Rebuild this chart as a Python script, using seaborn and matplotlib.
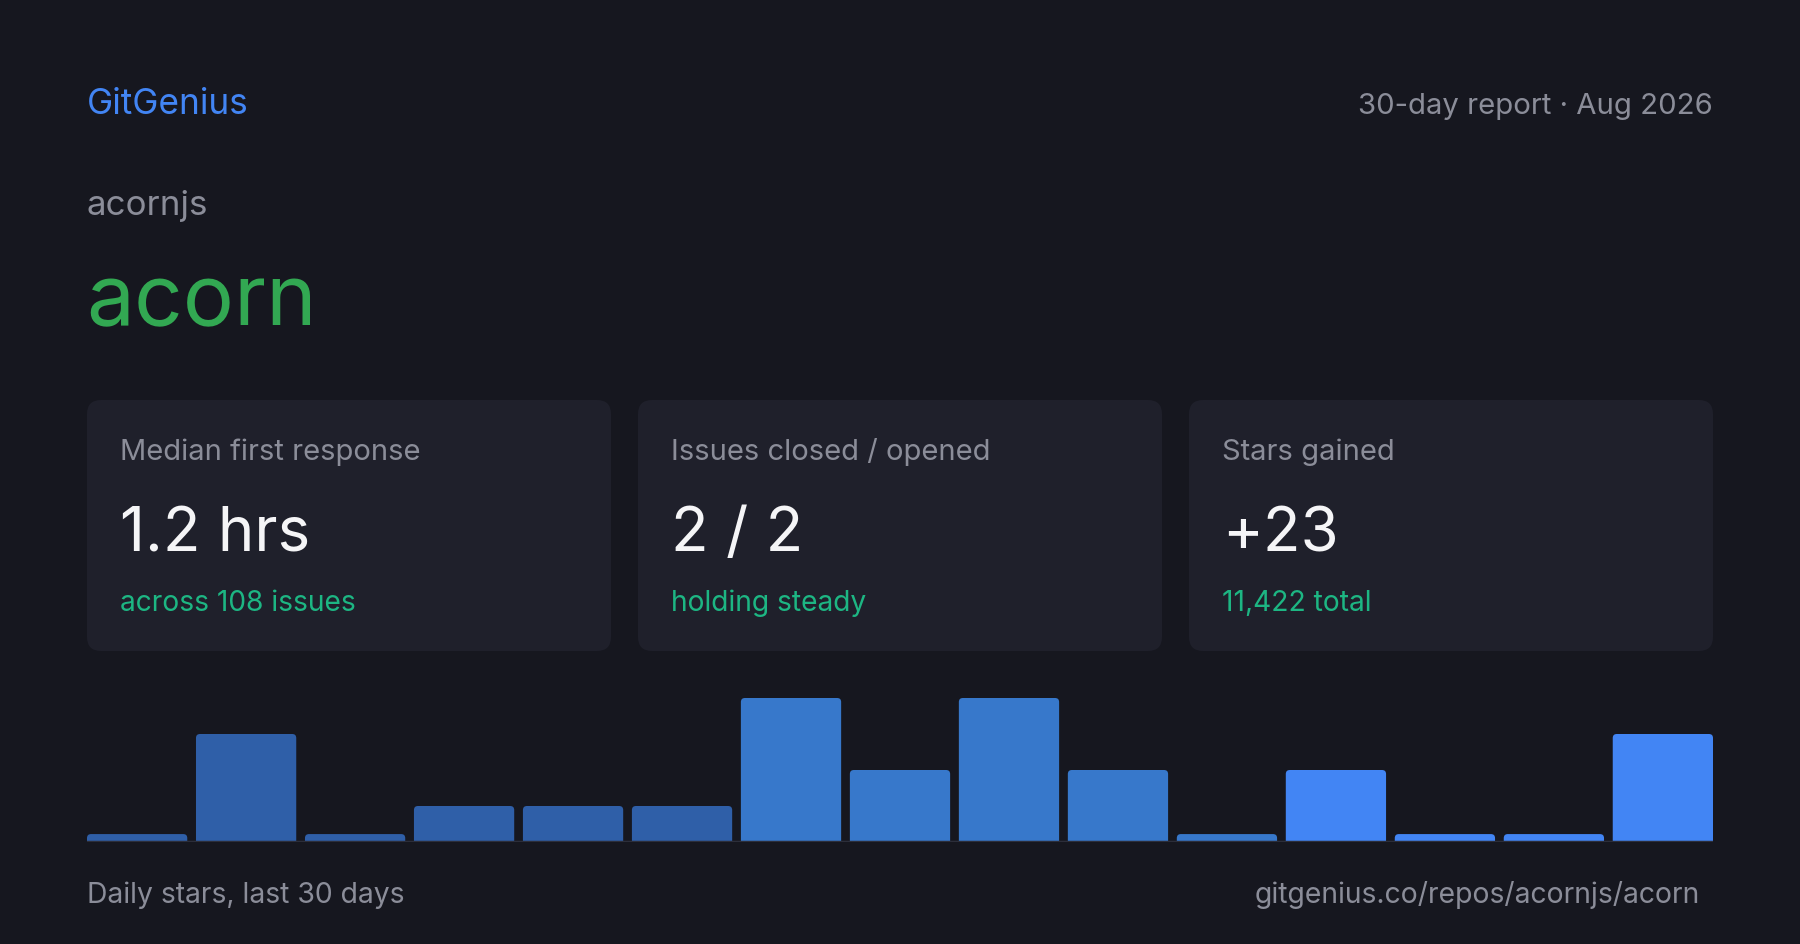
import numpy as np
import pandas as pd
import seaborn as sns
import matplotlib
matplotlib.use("Agg")
from matplotlib import pyplot as plt
from matplotlib.patches import FancyBboxPatch

stars = [0, 3, 0, 1, 1, 1, 4, 2, 4, 2, 0, 2, 0, 0, 3]   # daily stars, 2-day bins
period = ["early"] * 6 + ["mid"] * 5 + ["late"] * 4
card_labels = ["Median first response", "Issues closed / opened", "Stars gained"]
card_values = ["1.2 hrs", "2 / 2", "+23"]
card_notes = ["across 108 issues", "holding steady", "11,422 total"]

BG = "#16171f"
CARD = "#1f202b"
GRAY = "#8b8d99"
WHITE = "#f5f5f7"
TEAL = "#1db683"
palette = {"early": "#2f5fa8", "mid": "#3778cb", "late": "#4285f4"}

sns.set_theme(style="dark")
plt.rcParams["font.family"] = ["Inter", "DejaVu Sans"]

W, H = 1800, 945
fig = plt.figure(figsize=(W / 100, H / 100), dpi=100, facecolor=BG)

# full-figure canvas in pixel units
bg = fig.add_axes([0, 0, 1, 1])
bg.set_xlim(0, W)
bg.set_ylim(H, 0)
bg.axis("off")
bg.set_facecolor(BG)

bg.text(87, 114, "GitGenius", color="#4285f4", fontsize=25.3, va="baseline")
bg.text(1713, 114, "30-day report · Aug 2026", color=GRAY, fontsize=21.1,
        ha="right", va="baseline")
bg.text(87, 215, "acornjs", color=GRAY, fontsize=25.2, va="baseline")
bg.text(86, 325, "acorn", color="#32a852", fontsize=61.5, va="baseline")

card_w, gap = 524, 27
for i in range(3):
    x0 = 87 + i * (card_w + gap)
    bg.add_patch(FancyBboxPatch((x0, 401), card_w, 251,
                                boxstyle="round,pad=0,rounding_size=14",
                                fc=CARD, ec="none"))
    bg.text(x0 + 33, 460, card_labels[i], color=GRAY, fontsize=21, va="baseline")
    bg.text(x0 + 33, 551, card_values[i], color=WHITE, fontsize=44.5, va="baseline")
    bg.text(x0 + 33, 611, card_notes[i], color=TEAL, fontsize=20.3, va="baseline")

bg.text(87, 903, "Daily stars, last 30 days", color=GRAY, fontsize=20.4, va="baseline")
bg.text(1700, 903, "gitgenius.co/repos/acornjs/acorn", color=GRAY, fontsize=20.4,
        ha="right", va="baseline")

# bar strip
df = pd.DataFrame({"bin": [str(i) for i in range(len(stars))],
                   "stars": stars, "period": period})
stub = 0.22
df["shown"] = np.where(df["stars"] > 0, df["stars"], stub)

bw = 0.92
ax = fig.add_axes([87 / W, (H - 843) / H, 1626 / W, 144 / H])
sns.barplot(data=df, x="bin", y="shown", hue="period", palette=palette,
            dodge=False, width=bw, legend=False, ax=ax, saturation=1)
ax.set_ylim(0, max(stars))
ax.set_xlim(-bw / 2, len(stars) - 1 + bw / 2)
ax.set_facecolor("none")
ax.axis("off")

# swap plain rectangles for rounded ones
rx = 4 / (1626 / (len(stars) - 1 + bw))
ry = 4 / (144 / max(stars))
for p in list(ax.patches):
    x, w, h = p.get_x(), p.get_width(), p.get_height()
    fc = p.get_facecolor()
    p.remove()
    ax.add_patch(FancyBboxPatch((x, -ry), w, h + ry,
                                boxstyle=f"round,pad=0,rounding_size={rx}",
                                mutation_aspect=ry / rx, fc=fc, ec="none",
                                clip_on=True))
ax.axhline(0, color="#2c2e3a", lw=2.5, zorder=5)

fig.savefig("out.png", dpi=100, facecolor=BG)
